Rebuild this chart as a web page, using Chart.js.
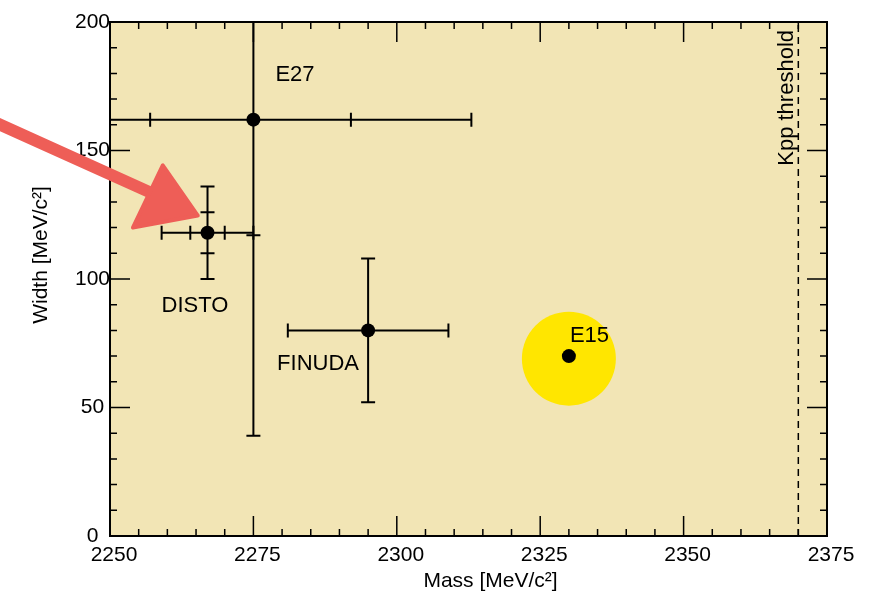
<!DOCTYPE html>
<html>
<head>
<meta charset="utf-8">
<script src="https://cdn.jsdelivr.net/npm/chart.js@4.4.1/dist/chart.umd.min.js"></script>
<style>
  html, body { margin: 0; padding: 0; background: #ffffff; }
  #wrap { width: 880px; height: 593px; }
</style>
</head>
<body>
<div id="wrap"><canvas id="c" width="880" height="593"></canvas></div>
<script>
// K-pp bound state candidates: mass vs width
const experiments = ['E27', 'DISTO', 'FINUDA', 'E15'];
const mass  = [2275, 2267, 2295, 2330];
const width = [162, 118, 80, 70];
// uncertainties as [minus, plus]; systematic part is stacked linearly on the statistical one
const massStat  = [[18, 17], [3, 3], [14, 14], null];
const massSyst  = [[30, 21], [5, 5], null, null];
const widthStat = [[45, 87], [8, 8], [28, 28], null];
const widthSyst = [[78, 66], [10, 10], null, null];
const xTicks = [2250, 2275, 2300, 2325, 2350, 2375];
const yTicks = [0, 50, 100, 150, 200];
const thresholdMass = 2370;
const thresholdLabel = 'Kpp threshold';
const highlightPoint = { x: 2330, y: 69 };
const xTitle = 'Mass [MeV/c\u00B2]';
const yTitle = 'Width [MeV/c\u00B2]';
// hand-drawn arrow pointing at DISTO (shaft, then head), in mass/width units
const arrowShaft = [[2230.4, 160.5], [2257.0, 133.7]];
const arrowHead  = [[2259.2, 144.2], [2254.0, 120.0], [2265.3, 124.7]];

const FONT = '"Liberation Sans", Arial, Helvetica, sans-serif';
const BG = 'rgb(242,229,181)';
const INK = '#000000';

// label placement relative to each marker, in pixels
const labelOffset = [[22, -39], [-46, 79], [-91, 40], [1, -14]];

const plotDecor = {
  id: 'plotDecor',
  beforeDraw(chart) {
    const { ctx, chartArea: a } = chart;
    ctx.save();
    ctx.fillStyle = BG;
    ctx.fillRect(a.left, a.top, a.right - a.left, a.bottom - a.top);
    ctx.restore();
  },
  beforeDatasetsDraw(chart) {
    const { ctx, chartArea: a, scales: { x, y } } = chart;
    ctx.save();
    ctx.strokeStyle = INK;
    ctx.lineWidth = 1.5;
    // inward ticks on all four sides
    const major = 20, minor = 7;
    for (let v = x.min + 5; v < x.max; v += 5) {
      const px = x.getPixelForValue(v);
      const len = (v - x.min) % 25 === 0 ? major : minor;
      ctx.beginPath();
      ctx.moveTo(px, a.bottom); ctx.lineTo(px, a.bottom - len);
      ctx.moveTo(px, a.top); ctx.lineTo(px, a.top + len);
      ctx.stroke();
    }
    for (let v = y.min + 10; v < y.max; v += 10) {
      const py = y.getPixelForValue(v);
      const len = v % 50 === 0 ? major : minor;
      ctx.beginPath();
      ctx.moveTo(a.left, py); ctx.lineTo(a.left + len, py);
      ctx.moveTo(a.right, py); ctx.lineTo(a.right - len, py);
      ctx.stroke();
    }

    // error bars: full stat+syst span with end caps, stat limits marked by cross ticks
    ctx.beginPath();
    ctx.rect(a.left, a.top, a.right - a.left, a.bottom - a.top);
    ctx.clip();
    ctx.lineWidth = 2;
    const cap = 7;
    for (let i = 0; i < mass.length; i++) {
      const cx = x.getPixelForValue(mass[i]);
      const cy = y.getPixelForValue(width[i]);
      if (massStat[i]) {
        const s = massStat[i], t = massSyst[i] || [0, 0];
        const lo = x.getPixelForValue(mass[i] - s[0] - t[0]);
        const hi = x.getPixelForValue(mass[i] + s[1] + t[1]);
        ctx.beginPath();
        ctx.moveTo(lo, cy); ctx.lineTo(hi, cy);
        ctx.moveTo(lo, cy - cap); ctx.lineTo(lo, cy + cap);
        ctx.moveTo(hi, cy - cap); ctx.lineTo(hi, cy + cap);
        if (massSyst[i]) {
          const sl = x.getPixelForValue(mass[i] - s[0]);
          const sh = x.getPixelForValue(mass[i] + s[1]);
          ctx.moveTo(sl, cy - cap); ctx.lineTo(sl, cy + cap);
          ctx.moveTo(sh, cy - cap); ctx.lineTo(sh, cy + cap);
        }
        ctx.stroke();
      }
      if (widthStat[i]) {
        const s = widthStat[i], t = widthSyst[i] || [0, 0];
        const lo = y.getPixelForValue(width[i] - s[0] - t[0]);
        const hi = y.getPixelForValue(width[i] + s[1] + t[1]);
        ctx.beginPath();
        ctx.moveTo(cx, lo); ctx.lineTo(cx, hi);
        ctx.moveTo(cx - cap, lo); ctx.lineTo(cx + cap, lo);
        ctx.moveTo(cx - cap, hi); ctx.lineTo(cx + cap, hi);
        if (widthSyst[i]) {
          const sl = y.getPixelForValue(width[i] - s[0]);
          const sh = y.getPixelForValue(width[i] + s[1]);
          ctx.moveTo(cx - cap, sl); ctx.lineTo(cx + cap, sl);
          ctx.moveTo(cx - cap, sh); ctx.lineTo(cx + cap, sh);
        }
        ctx.stroke();
      }
    }
    ctx.restore();
  },
  afterDatasetsDraw(chart) {
    const { ctx, chartArea: a, scales: { x, y } } = chart;
    ctx.save();
    ctx.fillStyle = INK;
    ctx.font = '22px ' + FONT;
    ctx.textBaseline = 'alphabetic';
    ctx.textAlign = 'left';
    experiments.forEach((name, i) => {
      const px = x.getPixelForValue(mass[i]) + labelOffset[i][0];
      const py = y.getPixelForValue(width[i]) + labelOffset[i][1];
      ctx.fillText(name, px, py);
    });

    // threshold label, reading upwards along the dashed line
    ctx.save();
    ctx.font = '22px ' + FONT;
    ctx.translate(x.getPixelForValue(thresholdMass) - 5, a.top + 8);
    ctx.rotate(-Math.PI / 2);
    ctx.textAlign = 'right';
    ctx.fillText(thresholdLabel, 0, 0);
    ctx.restore();

    // frame
    ctx.strokeStyle = INK;
    ctx.lineWidth = 2;
    ctx.strokeRect(a.left, a.top, a.right - a.left, a.bottom - a.top);

    // axis titles
    ctx.font = '21px ' + FONT;
    ctx.textAlign = 'center';
    ctx.fillText(xTitle, (a.left + a.right) / 2 + 22, a.bottom + 51);
    ctx.save();
    ctx.translate(a.left - 63, (a.top + a.bottom) / 2 - 24);
    ctx.rotate(-Math.PI / 2);
    ctx.fillText(yTitle, 0, 0);
    ctx.restore();
    ctx.restore();
  },
  afterDraw(chart) {
    const { ctx, scales: { x, y } } = chart;
    const P = p => [x.getPixelForValue(p[0]), y.getPixelForValue(p[1])];
    ctx.save();
    ctx.strokeStyle = 'rgb(238,94,87)';
    ctx.fillStyle = 'rgb(238,94,87)';
    ctx.lineWidth = 12;
    ctx.lineCap = 'round';
    ctx.lineJoin = 'round';
    const s0 = P(arrowShaft[0]), s1 = P(arrowShaft[1]);
    ctx.beginPath();
    ctx.moveTo(s0[0], s0[1]); ctx.lineTo(s1[0], s1[1]);
    ctx.stroke();
    ctx.lineWidth = 4;
    ctx.beginPath();
    arrowHead.forEach((p, k) => {
      const q = P(p);
      if (k === 0) ctx.moveTo(q[0], q[1]); else ctx.lineTo(q[0], q[1]);
    });
    ctx.closePath();
    ctx.fill();
    ctx.stroke();
    ctx.restore();
  }
};

new Chart(document.getElementById('c'), {
  type: 'scatter',
  data: {
    datasets: [
      {
        label: 'highlight',
        data: [highlightPoint],
        pointRadius: 47,
        pointHoverRadius: 47,
        backgroundColor: 'rgb(255,230,0)',
        borderWidth: 0,
        order: 3
      },
      {
        label: thresholdLabel,
        data: [{ x: thresholdMass, y: yTicks[0] }, { x: thresholdMass, y: yTicks[yTicks.length - 1] }],
        showLine: true,
        borderColor: INK,
        borderWidth: 1.5,
        borderDash: [7, 5],
        pointRadius: 0,
        pointHoverRadius: 0,
        order: 2
      },
      {
        label: 'measurements',
        data: mass.map((m, i) => ({ x: m, y: width[i] })),
        pointRadius: 7,
        pointHoverRadius: 7,
        backgroundColor: INK,
        borderWidth: 0,
        order: 1
      }
    ]
  },
  options: {
    responsive: false,
    animation: false,
    events: [],
    layout: { autoPadding: false, padding: { top: 22, right: 53, left: 0, bottom: 0 } },
    plugins: { legend: { display: false }, tooltip: { enabled: false } },
    scales: {
      x: {
        type: 'linear',
        min: xTicks[0],
        max: xTicks[xTicks.length - 1],
        afterBuildTicks: s => { s.ticks = xTicks.map(v => ({ value: v })); },
        afterFit: s => { s.height = 57; s.paddingLeft = 0; s.paddingRight = 0; },
        grid: { display: false, drawTicks: false },
        border: { display: false },
        ticks: {
          callback: v => String(v),
          color: INK,
          font: { family: FONT, size: 21 },
          padding: 7,
          labelOffset: 4,
          maxRotation: 0
        }
      },
      y: {
        type: 'linear',
        min: yTicks[0],
        max: yTicks[yTicks.length - 1],
        afterBuildTicks: s => { s.ticks = yTicks.map(v => ({ value: v })); },
        afterFit: s => { s.width = 110; s.paddingTop = 0; s.paddingBottom = 0; },
        grid: { display: false, drawTicks: false },
        border: { display: false },
        ticks: {
          callback: v => String(v),
          color: INK,
          font: { family: FONT, size: 21 },
          padding: 0,
          crossAlign: 'center'
        }
      }
    }
  },
  plugins: [plotDecor]
});
</script>
</body>
</html>
